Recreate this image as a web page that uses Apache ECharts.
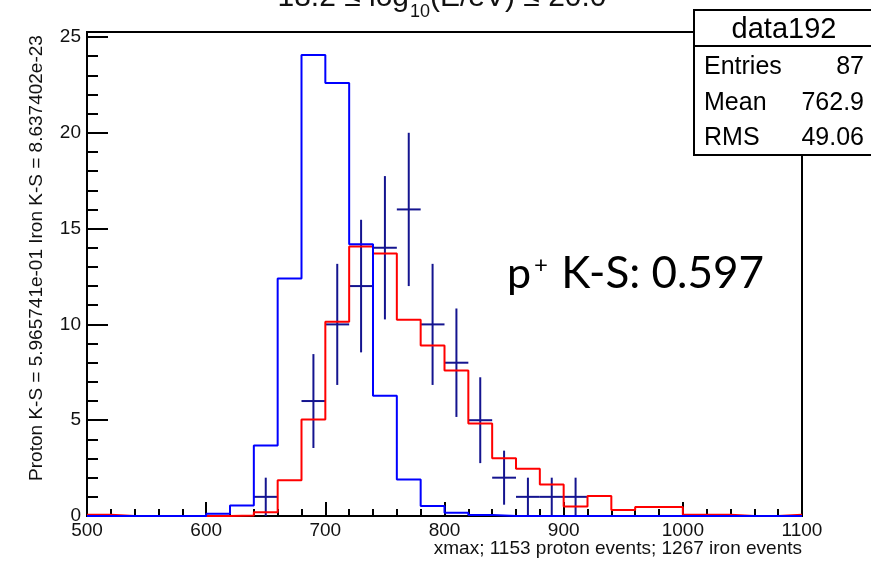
<!DOCTYPE html>
<html><head><meta charset="utf-8">
<script src="https://cdn.jsdelivr.net/npm/echarts@6/dist/echarts.min.js"></script>
<style>html,body{margin:0;padding:0;background:#fff}#c{width:871px;height:562px}</style>
</head><body><div id="c"></div>
<script>
// ---- data ----
const binEdges = [500,520,540,560,580,600,620,640,660,680,700,720,740,760,780,800,820,840,860,880,900,920,940,960,980,1000,1020,1040,1060,1080,1100];
const ironHist = [0,0,0,0,0,0.12,0.55,3.68,12.4,24.06,22.6,14.18,6.28,1.9,0.52,0.17,0.05,0,0,0,0,0,0,0,0,0,0,0,0,0];
const protonHist = [0.07,0,0,0,0,0,0.03,0.2,1.87,5.03,10.14,14.06,13.7,10.24,8.9,7.6,4.83,3.02,2.47,1.64,0.49,1.04,0.31,0.47,0.47,0.07,0.07,0,0,0.07];
const dataCenters = [650,690,710,730,750,770,790,810,830,850,870,890,910];
const dataCounts  = [1,6,10,12,14,16,10,8,5,2,1,1,1];
const dataErrors  = [1,2.45,3.16,3.46,3.74,4,3.16,2.83,2.24,1.41,1,1,1];
const xMin = 500, xMax = 1100, xMajor = 100, xMinorSplit = 5;
const yMin = 0, yMax = 25.26, yMajor = 5, yMinor = 1;
const titleParts = ['18.2 \u2264 log', '10', '(E/eV) \u2264 20.0'];
const yTitle = 'Proton K-S = 5.965741e-01 Iron K-S = 8.637402e-23';
const xTitle = 'xmax; 1153 proton events; 1267 iron events';
const statsName = 'data192';
const statsLabels = ['Entries', 'Mean', 'RMS'];
const statsValues = ['87', '762.9', '49.06'];
const ksText = ['p', '+', 'K-S: 0.597'];

// ---- build ----
const binWidth = binEdges[1] - binEdges[0];
function stepPoints(vals) {
  const pts = vals.map((v, i) => [binEdges[i], v]);
  pts.push([binEdges[binEdges.length - 1], vals[vals.length - 1]]);
  return pts;
}
const dataPts = dataCenters.map((c, i) => [c, dataCounts[i], dataErrors[i]]);
const NAVY = '#14148f';
const FONT = '"Liberation Sans", Arial, sans-serif';
const TXT = '#111';

const chart = echarts.init(document.getElementById('c'), null, {renderer: 'canvas'});
const statsRowsY = [67, 103, 138];
const graphics = [
  {type:'text', x:409, y:-2, z:50, style:{text:titleParts[0], fontSize:30, fontFamily:FONT, fill:TXT, align:'right', verticalAlign:'middle'}},
  {type:'text', x:410, y:12, z:50, style:{text:titleParts[1], fontSize:18, fontFamily:FONT, fill:TXT, align:'left', verticalAlign:'middle'}},
  {type:'text', x:430, y:-2, z:50, style:{text:titleParts[2], fontSize:30, fontFamily:FONT, fill:TXT, align:'left', verticalAlign:'middle'}},
  {type:'text', x:37, y:258, rotation:Math.PI/2, z:50, style:{text:yTitle, fontSize:19, fontFamily:FONT, fill:TXT, align:'center', verticalAlign:'middle'}},
  {type:'text', x:802, y:549, z:50, style:{text:xTitle, fontSize:19, fontFamily:FONT, fill:TXT, align:'right', verticalAlign:'middle'}},
  {type:'rect', z:100, shape:{x:694, y:10, width:200, height:145}, style:{fill:'#fff', stroke:'#000', lineWidth:2}},
  {type:'line', z:101, shape:{x1:694, y1:46, x2:871, y2:46}, style:{stroke:'#000', lineWidth:2}},
  {type:'text', x:784, y:30, z:102, style:{text:statsName, fontSize:29, fontFamily:FONT, fill:'#000', align:'center', verticalAlign:'middle'}},
  {type:'text', x:507, y:274, z:50, style:{text:ksText[0], fontSize:43, fontFamily:'Lato', fill:'#000', align:'left', verticalAlign:'middle'}},
  {type:'text', x:534, y:265, z:50, style:{text:ksText[1], fontSize:24, fontFamily:'Lato', fill:'#000', align:'left', verticalAlign:'middle'}},
  {type:'text', x:764, y:274, z:50, style:{text:ksText[2], fontSize:44, fontFamily:'Lato', fill:'#000', align:'right', verticalAlign:'middle'}}
];
statsLabels.forEach((l, i) => {
  graphics.push({type:'text', x:704, y:statsRowsY[i], z:102, style:{text:l, fontSize:25, fontFamily:FONT, fill:'#000', align:'left', verticalAlign:'middle'}});
  graphics.push({type:'text', x:864, y:statsRowsY[i], z:102, style:{text:statsValues[i], fontSize:25, fontFamily:FONT, fill:'#000', align:'right', verticalAlign:'middle'}});
});

chart.setOption({
  animation: false,
  backgroundColor: '#fff',
  grid: {left:87, right:69, top:32, bottom:46, show:true, borderColor:'#000', borderWidth:2, backgroundColor:'transparent', containLabel:false, outerBoundsMode:'none'},
  xAxis: [{
    type:'value', min:xMin, max:xMax, interval:xMajor, position:'bottom',
    axisLine:{show:true, onZero:false, lineStyle:{color:'#000', width:2}},
    axisTick:{show:true, inside:true, length:14, lineStyle:{color:'#000', width:2}},
    minorTick:{show:true, splitNumber:xMinorSplit, length:7, lineStyle:{color:'#000', width:2}},
    splitLine:{show:false},
    axisLabel:{show:true, margin:5, fontSize:19, fontFamily:FONT, color:TXT, formatter: v => String(v)}
  }],
  yAxis: [{
    type:'value', min:yMin, max:yMax, interval:yMajor, position:'left',
    axisLine:{show:true, onZero:false, lineStyle:{color:'#000', width:2}},
    axisTick:{show:true, inside:true, length:21, lineStyle:{color:'#000', width:2}},
    splitLine:{show:false},
    axisLabel:{show:true, margin:6, fontSize:19, fontFamily:FONT, color:TXT, showMaxLabel:false,
      formatter: v => (Math.abs(v % yMajor) < 1e-9 ? String(v) : '')}
  },{
    type:'value', min:yMin, max:yMax, interval:yMinor, position:'left', offset:0,
    axisLine:{show:false},
    axisTick:{show:true, inside:true, length:11, lineStyle:{color:'#000', width:2}},
    splitLine:{show:false},
    axisLabel:{show:false}
  }],
  series: [
    {type:'custom', xAxisIndex:0, yAxisIndex:0, z:3, clip:false, data:dataPts,
      renderItem(params, api) {
        const x = api.value(0), y = api.value(1), e = api.value(2);
        const l = api.coord([x - binWidth/2, y]);
        const r = api.coord([x + binWidth/2, y]);
        const t = api.coord([x, y + e]);
        const b = api.coord([x, Math.max(0, y - e)]);
        return {type:'group', children:[
          {type:'line', shape:{x1:l[0], y1:l[1], x2:r[0], y2:r[1]}, style:{stroke:NAVY, lineWidth:2}},
          {type:'line', shape:{x1:t[0], y1:t[1], x2:b[0], y2:b[1]}, style:{stroke:NAVY, lineWidth:2}}
        ]};
      }},
    {type:'line', name:'proton', step:'end', data:stepPoints(protonHist), showSymbol:false, symbol:'none', clip:false, z:4,
      lineStyle:{color:'#ff0000', width:2}, itemStyle:{color:'#ff0000'}},
    {type:'line', name:'iron', step:'end', data:stepPoints(ironHist), showSymbol:false, symbol:'none', clip:false, z:5,
      lineStyle:{color:'#0000ff', width:2}, itemStyle:{color:'#0000ff'}}
  ],
  graphic: graphics
});
</script></body></html>
